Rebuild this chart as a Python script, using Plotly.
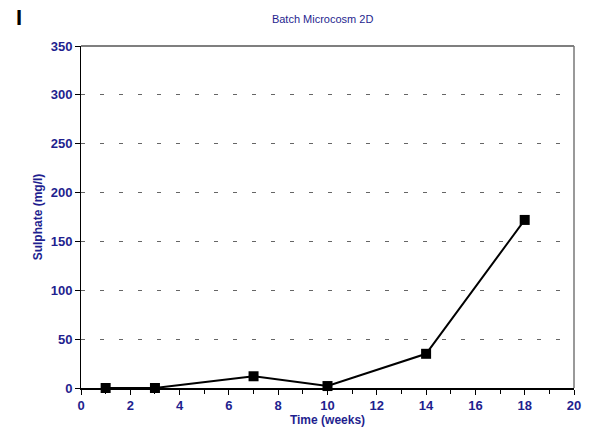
import plotly.graph_objects as go

# Sulphate concentration over time in batch microcosm 2D
weeks = [1, 3, 7, 10, 14, 18]
sulphate = [0, 0, 12, 2, 35, 172]

x_ticks = list(range(0, 21, 2))
y_ticks = list(range(0, 351, 50))

navy = "#1f1f8f"
font_family = "Liberation Sans, Arial, sans-serif"

fig = go.Figure()
fig.add_trace(go.Scatter(
    x=weeks, y=sulphate,
    mode="lines+markers",
    line=dict(color="black", width=2),
    marker=dict(symbol="square", size=10, color="black"),
    showlegend=False,
    cliponaxis=False,
))

fig.update_layout(
    width=592, height=436,
    margin=dict(l=81, r=11, t=46, b=48),
    paper_bgcolor="white", plot_bgcolor="white",
    font=dict(family=font_family, color=navy),
    title=dict(text="Batch Microcosm 2D", x=0.545, xanchor="center",
               y=0.957, yanchor="middle", font=dict(size=11, color=navy)),
    xaxis=dict(
        range=[0, 20], tickvals=x_ticks, ticktext=[str(v) for v in x_ticks],
        showgrid=False, zeroline=False,
        showline=True, linecolor="black", linewidth=1.5, mirror=False,
        ticks="outside", ticklen=5, tickcolor="black",
        minor=dict(ticks="outside", dtick=1, ticklen=4, tickcolor="black"),
        tickfont=dict(size=13, family=font_family, color=navy, weight="bold"),
        title=dict(text="Time (weeks)", standoff=1,
                   font=dict(size=12, color=navy, weight="bold")),
    ),
    yaxis=dict(
        range=[0, 350], tickvals=y_ticks, ticktext=[str(v) for v in y_ticks],
        showgrid=True, gridcolor="#666666", gridwidth=1, griddash="4px,15px",
        zeroline=False,
        showline=True, linecolor="black", linewidth=1,
        ticks="outside", ticklen=5, tickcolor="black",
        tickfont=dict(size=13, family=font_family, color=navy, weight="bold"),
        title=dict(text="Sulphate (mg/l)", standoff=5,
                   font=dict(size=12, color=navy, weight="bold")),
    ),
)

# Gray frame on top and right of the plotting area
fig.add_shape(type="line", xref="paper", yref="paper", x0=0, x1=1, y0=1, y1=1,
              line=dict(color="#555555", width=1.5))
fig.add_shape(type="line", xref="paper", yref="paper", x0=1, x1=1, y0=0, y1=1,
              line=dict(color="#777777", width=1.5))

# Panel letter
fig.add_annotation(text="<b>I</b>", xref="paper", yref="paper",
                   x=-0.135, y=1.082, xanchor="left", yanchor="middle",
                   showarrow=False, font=dict(size=22, color="black"))

fig.write_html("out.html")
